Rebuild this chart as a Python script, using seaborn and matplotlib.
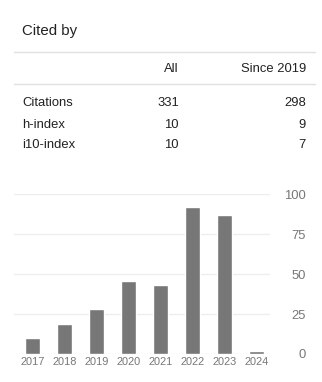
import matplotlib
matplotlib.use("Agg")
import matplotlib.pyplot as plt
import seaborn as sns

# citations per year
years = ["2017", "2018", "2019", "2020", "2021", "2022", "2023", "2024"]
counts = [10, 19, 28, 46, 43, 92, 87, 2]

# summary table
row_labels = ["Citations", "h-index", "i10-index"]
col_labels = ["All", "Since 2019"]
all_vals = ["331", "10", "10"]
since_vals = ["298", "9", "7"]

W, H = 322, 382
DARK = "#222222"
GREY = "#777777"

sns.set_theme(style="white")
plt.rcParams["font.family"] = ["Liberation Sans", "DejaVu Sans"]

fig = plt.figure(figsize=(W / 100, H / 100), dpi=100)


def px(x, y):
    return x / W, 1 - y / H


def pt(p):
    return p * 0.72


# header
fig.text(*px(22, 35.4), "Cited by", fontsize=pt(15), color=DARK, va="baseline")
for yy in (51.5, 84):
    fig.add_artist(plt.Line2D([14 / W, 315 / W], [1 - yy / H] * 2,
                              color="#e0e0e0", lw=1, transform=fig.transFigure))

fig.text(*px(179, 72.3), col_labels[0], fontsize=pt(13), color=DARK, ha="right", va="baseline")
fig.text(*px(306, 72.3), col_labels[1], fontsize=pt(13), color=DARK, ha="right", va="baseline")

row_y = [106.3, 128, 148]
for lab, a, s, yy in zip(row_labels, all_vals, since_vals, row_y):
    fig.text(*px(22, yy), lab, fontsize=pt(13), color=DARK, va="baseline")
    fig.text(*px(179, yy), a, fontsize=pt(13), color=DARK, ha="right", va="baseline")
    fig.text(*px(306, yy), s, fontsize=pt(13), color=DARK, ha="right", va="baseline")

# bar chart
left, right, top, bottom = 14, 270, 194.3, 354
ax = fig.add_axes([left / W, 1 - bottom / H, (right - left) / W, (bottom - top) / H])
sns.barplot(x=years, y=counts, color=GREY, saturation=1, width=15 / 32, ax=ax, zorder=3)
ax.set_xlim(-0.58, 7.42)
ax.set_ylim(0, 100)
ax.set_yticks([0, 25, 50, 75, 100])
ax.yaxis.grid(True, color="#eeeeee", lw=1, zorder=0)
ax.set_axisbelow(True)
for s in ax.spines.values():
    s.set_visible(False)
ax.yaxis.tick_right()
ax.tick_params(axis="y", length=0, pad=pt(36), labelsize=pt(13), labelcolor=GREY)
for t in ax.get_yticklabels():
    t.set_ha("right")
ax.tick_params(axis="x", length=0, pad=pt(3.3), labelsize=pt(11), labelcolor=GREY)
ax.set_xlabel("")
ax.set_ylabel("")

fig.savefig("out.png", dpi=100)
